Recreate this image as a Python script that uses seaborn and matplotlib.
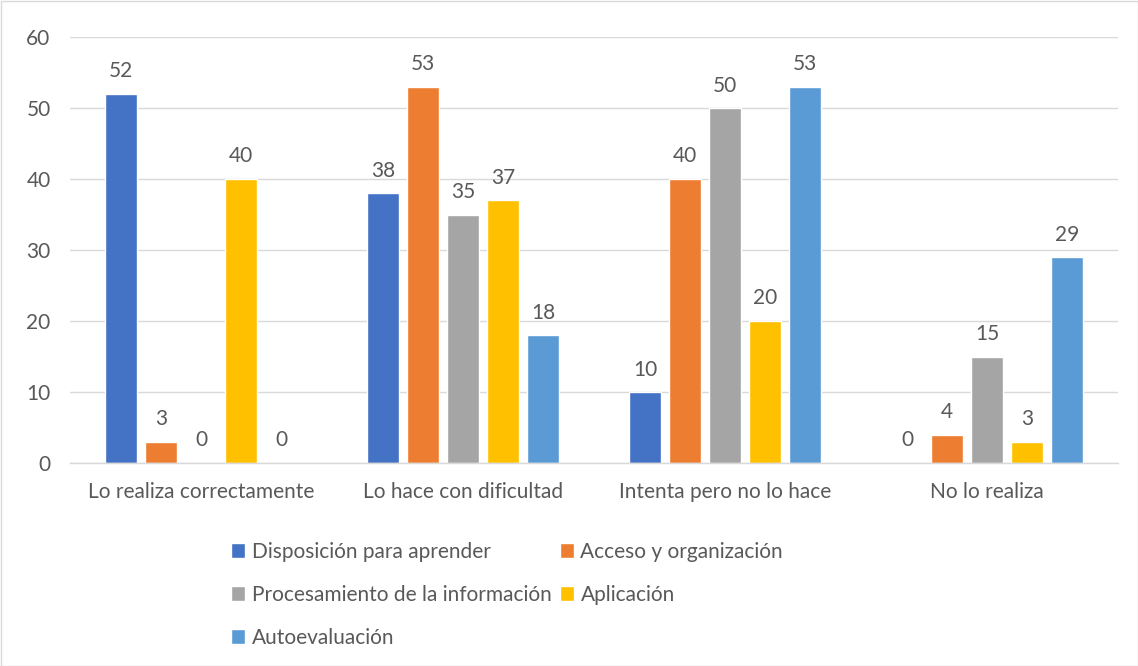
import numpy as np
import pandas as pd
import seaborn as sns
import matplotlib.pyplot as plt
from matplotlib.patches import Rectangle

categorias = ['Lo realiza correctamente', 'Lo hace con dificultad',
              'Intenta pero no lo hace', 'No lo realiza']
series = ['Disposición para aprender', 'Acceso y organización',
          'Procesamiento de la información', 'Aplicación', 'Autoevaluación']
disposicion = [52, 38, 10, 0]
acceso = [3, 53, 40, 4]
procesamiento = [0, 35, 50, 15]
aplicacion = [40, 37, 20, 3]
autoevaluacion = [0, 18, 53, 29]
colores = ['#4472C4', '#ED7D31', '#A5A5A5', '#FFC000', '#5B9BD5']

valores = [disposicion, acceso, procesamiento, aplicacion, autoevaluacion]
filas = []
for s, vals in zip(series, valores):
    for c, v in zip(categorias, vals):
        filas.append({'categoria': c, 'serie': s, 'valor': v})
df = pd.DataFrame(filas)

sns.set_theme(style='white')
plt.rcParams['font.family'] = ['Lato', 'DejaVu Sans']
gris = '#595959'
fs = 15

fig = plt.figure(figsize=(11.38, 6.66), dpi=100)
ax = fig.add_axes([70/1138, 1-463/666, 1048/1138, 426/666])

sns.barplot(data=df, x='categoria', y='valor', hue='serie', order=categorias,
            hue_order=series, palette=colores, width=0.763, gap=0.2,
            saturation=1, ax=ax, legend=True)

for cont in ax.containers:
    ax.bar_label(cont, fmt='%d', padding=9, fontsize=fs, color=gris)

ax.set_ylim(0, 60)
ax.set_yticks(range(0, 61, 10))
ax.set_xlim(-0.5, 3.5)
ax.set_xlabel('')
ax.set_ylabel('')
ax.yaxis.grid(True, color='#D9D9D9', linewidth=1)
ax.set_axisbelow(True)
for lado in ['top', 'right', 'left']:
    ax.spines[lado].set_visible(False)
ax.spines['bottom'].set_color('#D9D9D9')
ax.spines['bottom'].set_linewidth(1)
ax.tick_params(axis='both', length=0, labelsize=fs, labelcolor=gris)
ax.tick_params(axis='y', pad=14)
ax.tick_params(axis='x', pad=14)

handles, labels = ax.get_legend_handles_labels()
ax.get_legend().remove()
orden = [0, 2, 4, 1, 3]
fig.legend([handles[i] for i in orden], [labels[i] for i in orden],
           loc='upper left', bbox_to_anchor=(212/1138, 1-523/666), ncol=2,
           frameon=False, fontsize=fs, labelcolor=gris,
           handlelength=0.7, handleheight=0.7, handletextpad=0.3,
           labelspacing=1.1, columnspacing=0.4)

fig.patches.append(Rectangle((0.5/1138, 0.5/666), 1-1/1138, 1-1/666,
                             transform=fig.transFigure, fill=False,
                             edgecolor='#D9D9D9', linewidth=1))

fig.savefig('out.png', dpi=100)
